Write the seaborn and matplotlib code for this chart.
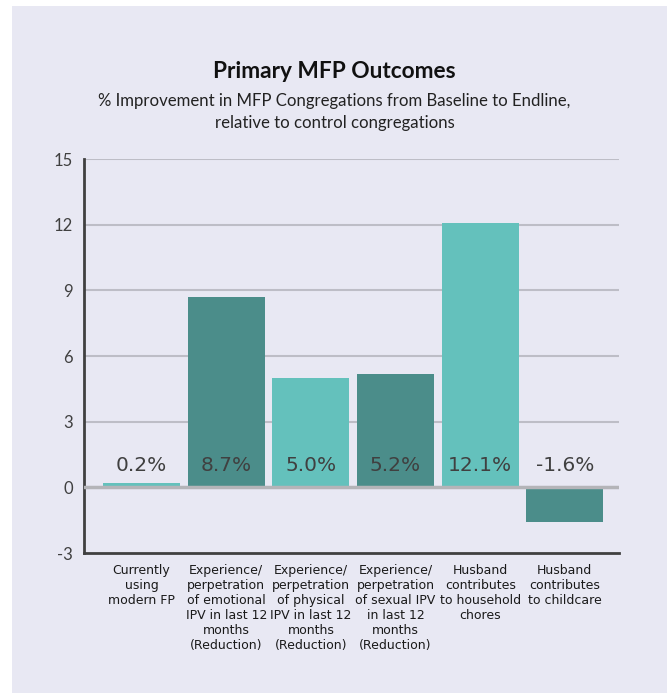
import pandas as pd
import numpy as np
import seaborn as sns
import matplotlib.pyplot as plt
from matplotlib.patches import Rectangle

categories = [
    "Currently\nusing\nmodern FP",
    "Experience/\nperpetration\nof emotional\nIPV in last 12\nmonths\n(Reduction)",
    "Experience/\nperpetration\nof physical\nIPV in last 12\nmonths\n(Reduction)",
    "Experience/\nperpetration\nof sexual IPV\nin last 12\nmonths\n(Reduction)",
    "Husband\ncontributes\nto household\nchores",
    "Husband\ncontributes\nto childcare",
]
values = [0.2, 8.7, 5.0, 5.2, 12.1, -1.6]
value_labels = ["0.2%", "8.7%", "5.0%", "5.2%", "12.1%", "-1.6%"]
y_ticks = [-3, 0, 3, 6, 9, 12, 15]

light = "#64C1BC"
dark = "#4B8D8A"
bar_colors = [light, dark, light, dark, light, dark]
bg = "#E8E8F3"

df = pd.DataFrame({"cat": categories, "val": values})

sns.set_theme(style="white")
plt.rcParams["font.family"] = ["Lato", "DejaVu Sans"]

fig = plt.figure(figsize=(6.69, 6.93), dpi=100)
fig.patch.set_facecolor("white")
fig.patches.append(Rectangle((12 / 669, 0), 655 / 669, 687 / 693,
                             transform=fig.transFigure, facecolor=bg,
                             edgecolor="none", zorder=-10))

ax = fig.add_axes([0.1256, 0.202, 0.7997, 0.5685])
ax.set_facecolor(bg)

sns.barplot(data=df, x="cat", y="val", hue="cat", palette=bar_colors,
            legend=False, width=0.91, saturation=1, linewidth=0, ax=ax, zorder=3)

ax.set_ylim(-3, 15)
ax.set_xlim(-0.68, 5.64)
ax.set_yticks(y_ticks)
ax.set_yticklabels([str(t) for t in y_ticks], fontsize=12, color="#404040")
ax.tick_params(axis="y", length=0, pad=8)
ax.tick_params(axis="x", length=0, pad=8)
ax.set_xticks(range(len(categories)))
ax.set_xticklabels(categories, fontsize=9, color="#1a1a1a", linespacing=1.2, va="top",
                   family=["Liberation Sans Narrow", "DejaVu Sans"])
ax.set_xlabel("")
ax.set_ylabel("")

for t in y_ticks[2:]:
    ax.axhline(t, color="#BDBDC6", lw=1.5, zorder=1)
ax.axhline(0, color="#B4B4B8", lw=2.5, zorder=4)

for s in ["top", "right"]:
    ax.spines[s].set_visible(False)
ax.spines["left"].set_color("#404040")
ax.spines["left"].set_linewidth(2)
ax.spines["bottom"].set_color("#404040")
ax.spines["bottom"].set_linewidth(2)

# value labels sit just above the zero line
for i, lab in enumerate(value_labels):
    ax.text(i, 1.0, lab, ha="center", va="center", fontsize=14.5,
            color="#404040", zorder=5, family=["DejaVu Sans"])

fig.text(0.5, 1 - 72 / 693, "Primary MFP Outcomes", ha="center", va="center",
         fontsize=16.3, fontweight="bold", color="#111111")
fig.text(0.5, 1 - 112 / 693,
         "% Improvement in MFP Congregations from Baseline to Endline,\nrelative to control congregations",
         ha="center", va="center", fontsize=12.1, color="#222222", linespacing=1.45)

fig.savefig("out.png", dpi=100, facecolor=fig.get_facecolor())
